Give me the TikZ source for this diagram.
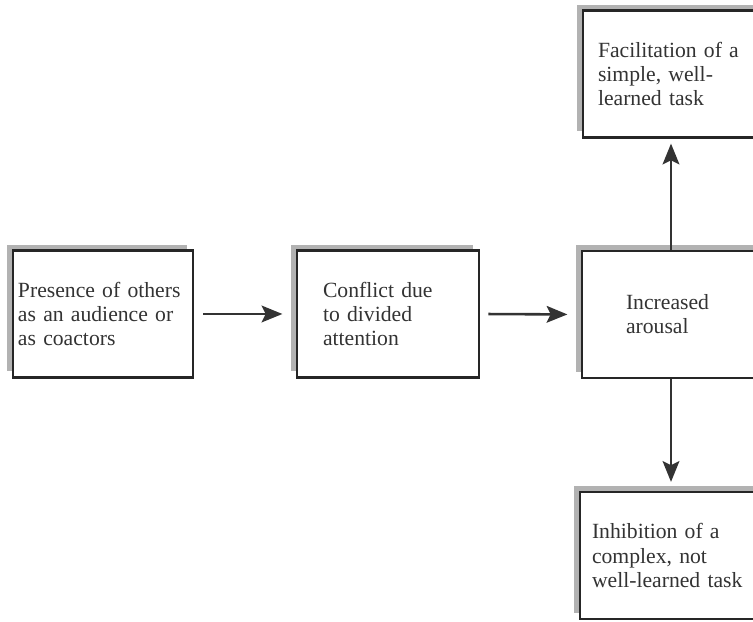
\documentclass[tikz,border=0pt]{standalone}
\usepackage{fontspec}
\setmainfont{Liberation Serif}
\usetikzlibrary{arrows.meta,shadows}

\begin{document}
\begin{tikzpicture}[
  font=\fontsize{18.5}{20.5}\selectfont,
  every node/.style={text=black!80},
  box/.style={draw=black!85, line width=2.2pt, fill=white, align=left,
    minimum height=3.8cm, inner ysep=0pt,
    drop shadow={shadow xshift=-0.18cm, shadow yshift=0.18cm, fill=black!30, opacity=1}},
  arrow/.style={->, >={Stealth[length=0.62cm, width=0.5cm, inset=0.12cm]}, line width=2.2pt, black!80},
]
\useasboundingbox (0,0) rectangle (22.59,18.66);
\clip (0,0) rectangle (22.59,18.66);

% The causal chain, left to right.
\node[box, inner xsep=0.15cm, text width=5.1cm] (presence) at (3.09, 9.24)
  {Presence of others\\as an audience or\\as coactors};
\node[box, inner xsep=0.78cm, text width=3.9cm] (conflict) at (11.64, 9.24)
  {Conflict due\\to divided\\attention};
\node[box, inner xsep=1.32cm, text width=2.7cm] (arousal) at (20.13, 9.225)
  {Increased\\arousal};

% The two outcomes, above and below.
\node[box, inner xsep=0.45cm, text width=4.38cm] (facil) at (20.13, 16.44)
  {Facilitation of a\\simple, well-\\learned task};
\node[box, inner xsep=0.36cm, text width=4.74cm] (inhib) at (20.13, 1.995)
  {Inhibition of a\\complex, not\\well-learned task};

% Connectors.
\draw[arrow, shorten <=0.27cm, shorten >=0.4cm] (presence.east) -- (conflict.west);
\draw[arrow, shorten <=0.24cm, shorten >=0.4cm] (conflict.east) -- (arousal.west);
\draw[arrow, shorten >=0.15cm] (arousal.north) -- (facil.south);
\draw[arrow, shorten >=0.27cm] (arousal.south) -- (inhib.north);

\end{tikzpicture}
\end{document}
